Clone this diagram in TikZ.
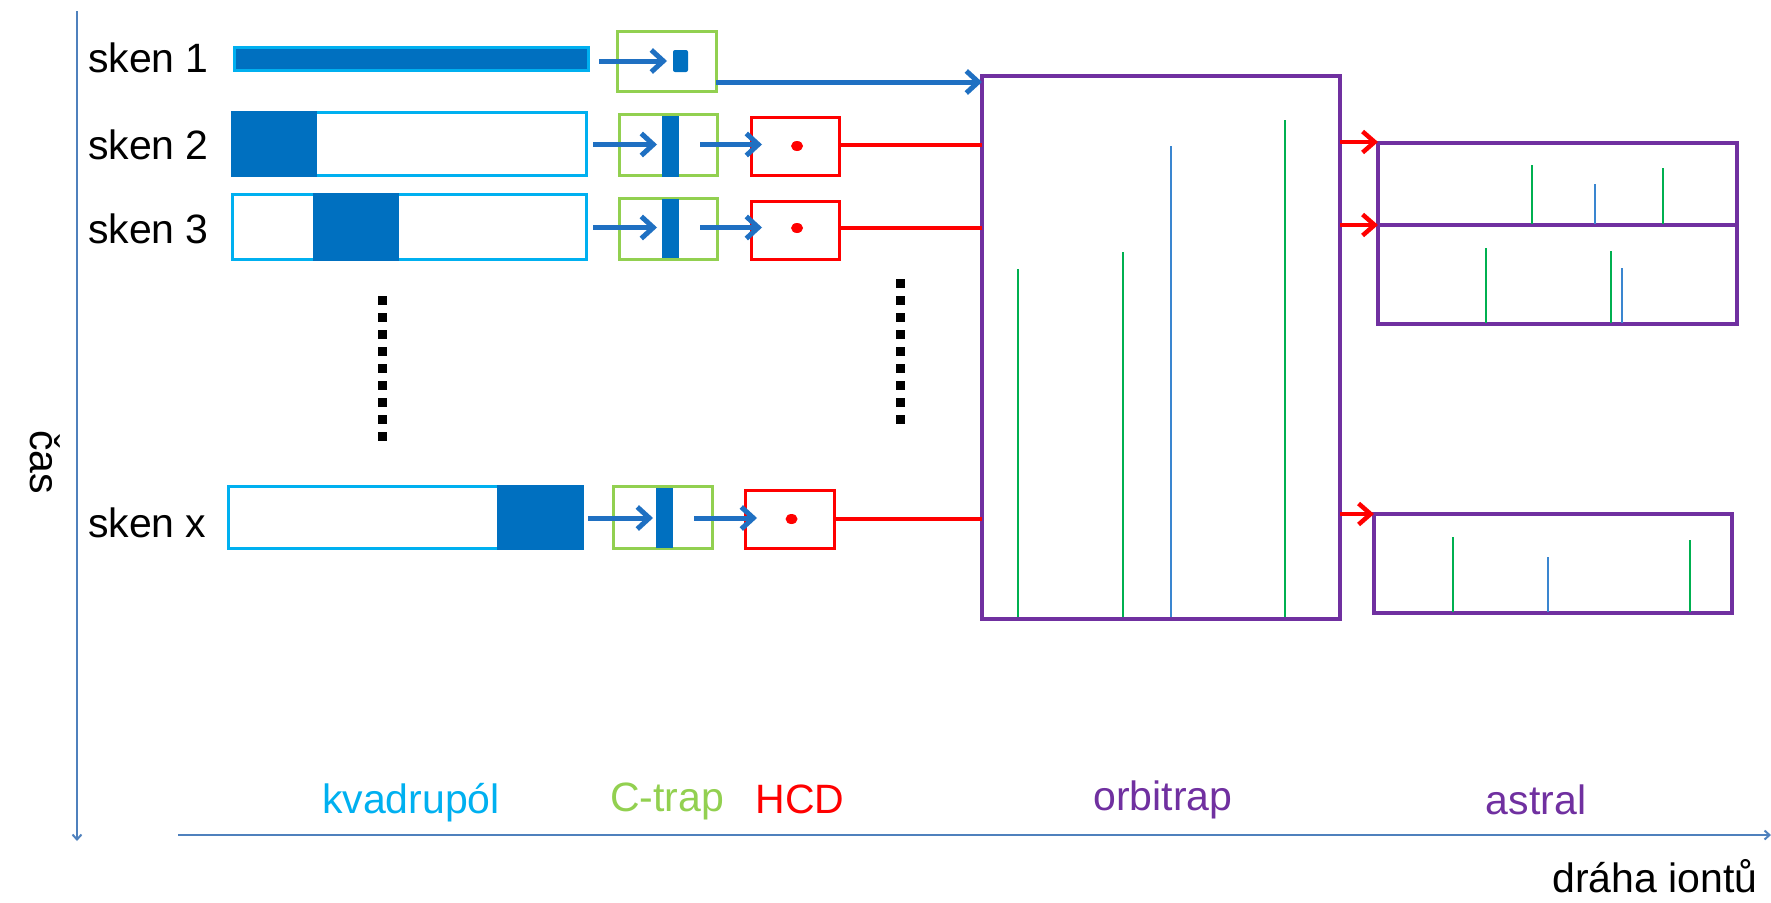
\documentclass[tikz,border=0pt]{standalone}
\usepackage{fontspec}
\setmainfont{Liberation Sans}
\usetikzlibrary{arrows.meta,calc}
\definecolor{qcyan}{HTML}{00B0F0}
\definecolor{dblue}{HTML}{0070C0}
\definecolor{ablue}{HTML}{1F70C2}
\definecolor{axblue}{HTML}{4F81BD}
\definecolor{cgreen}{HTML}{92D050}
\definecolor{hred}{HTML}{FF0000}
\definecolor{ppurple}{HTML}{7030A0}
\definecolor{pkgreen}{HTML}{00B050}
\definecolor{pkblue}{HTML}{3A86D0}
\begin{document}
\begin{tikzpicture}[x=1pt,y=-1pt,
  box/.style={draw, rectangle, inner sep=0pt, outer sep=0pt, line width=3pt},
  qbox/.style={box, draw=qcyan},
  cbox/.style={box, draw=cgreen},
  hbox/.style={box, draw=hred},
  pbox/.style={box, draw=ppurple, line width=3.5pt},
  blk/.style={rectangle, fill=dblue, draw=none, inner sep=0pt, outer sep=0pt},
  barrow/.style={draw=ablue, line width=5pt, -{Straight Barb[length=12pt,width=22pt]}},
  rline/.style={draw=hred, line width=4.5pt},
  rarrow/.style={draw=hred, line width=4.5pt, -{Straight Barb[length=12pt,width=21pt]}},
  axisline/.style={draw=axblue, line width=2pt, -{Straight Barb[length=5pt,width=9pt]}},
  pkg/.style={draw=pkgreen, line width=2.2pt},
  pkb/.style={draw=pkblue, line width=2.2pt},
  dots/.style={draw=black, line width=9pt, dash pattern=on 9pt off 8pt},
  lbl/.style={inner sep=0pt, outer sep=0pt, font=\fontsize{41}{48}\selectfont},
]
\useasboundingbox (0,0) rectangle (1771,902);

% axes
\coordinate (tTop) at (77,11);
\coordinate (tBot) at (77,841);
\coordinate (xL) at (178,835);
\coordinate (xR) at (1771,835);
\draw[axisline] (tTop) -- (tBot);
\draw[axisline] (xL) -- (xR);

% quadrupole boxes
\node[qbox, fill=dblue, minimum width=354, minimum height=23] (q1) at (411,58.5) {};
\node[qbox, minimum width=354, minimum height=63] (q2) at (409,143.5) {};
\node[qbox, minimum width=354, minimum height=65] (q3) at (409,226.5) {};
\node[qbox, minimum width=354, minimum height=62] (qx) at (405,517) {};
\fill[dblue] ($(q2.north west)+(-1.5,-1.5)$) rectangle ($(q2.south west)+(85,1.5)$);
\fill[dblue] ($(q3.north west)+(81,-1.5)$) rectangle ($(q3.south west)+(167,1.5)$);
\fill[dblue] ($(qx.north east)+(-85,-1.5)$) rectangle ($(qx.south east)+(1.5,1.5)$);

% C-trap boxes
\node[cbox, minimum width=99, minimum height=60] (c1) at (666.5,61) {};
\node[cbox, minimum width=98, minimum height=61] (c2) at (668,144.5) {};
\node[cbox, minimum width=98, minimum height=61] (c3) at (668,228.5) {};
\node[cbox, minimum width=99, minimum height=62] (cx) at (662.5,517) {};
\node[blk, rounded corners=2pt, minimum width=15, minimum height=22] (cb1) at (680.5,61) {};
\node[blk, minimum width=17, minimum height=61] (cb2) at (670.5,146.5) {};
\node[blk, minimum width=17, minimum height=59] (cb3) at (670.5,228.5) {};
\node[blk, minimum width=17, minimum height=60] (cbx) at (664.5,518) {};

% HCD boxes
\node[hbox, minimum width=88, minimum height=58] (h2) at (795,146) {};
\node[hbox, minimum width=88, minimum height=58] (h3) at (795,230) {};
\node[hbox, minimum width=89, minimum height=58] (hx) at (789.5,519) {};
\fill[hred] ($(h2.center)+(2,0)$) ellipse [x radius=6, y radius=5];
\fill[hred] ($(h3.center)+(2,-2)$) ellipse [x radius=6, y radius=5];
\fill[hred] ($(hx.center)+(2,0)$) ellipse [x radius=6, y radius=5];

% orbitrap and astral
\node[pbox, minimum width=358, minimum height=543] (orb) at (1161,347.5) {};
\node[pbox, minimum width=359, minimum height=82] (a1) at (1557.5,184) {};
\node[pbox, minimum width=359, minimum height=99] (a2) at (1557.5,274.5) {};
\node[pbox, minimum width=358, minimum height=99] (a3) at (1553,563.5) {};

% peaks in orbitrap
\draw[pkg] (1018,617) -- (1018,269);
\draw[pkg] (1123,617) -- (1123,252);
\draw[pkb] (1171,617) -- (1171,146);
\draw[pkg] (1285,617) -- (1285,120);
% peaks in astral
\draw[pkg] (1532,224) -- (1532,165);
\draw[pkb] (1595,224) -- (1595,184);
\draw[pkg] (1663,224) -- (1663,168);
\draw[pkg] (1486,323) -- (1486,248);
\draw[pkg] (1611,323) -- (1611,251);
\draw[pkb] (1622,323) -- (1622,268);
\draw[pkg] (1453,612) -- (1453,537);
\draw[pkb] (1548,612) -- (1548,557);
\draw[pkg] (1690,612) -- (1690,540);

% connectors
\draw[barrow] ($(q1.east |- cb1.west)+(11,0)$) -- ($(cb1.west)+(-6,0)$);
\draw[barrow] ($(c1.east)+(0,21)$) -- ($(orb.west |- c1.east)+(0,21)$);

\draw[barrow] ($(q2.east |- c2.center)+(7,0)$) -- ($(cb2.west |- c2.center)+(-5,0)$);
\draw[barrow] ($(cb2.east |- c2.center)+(21,0)$) -- ($(h2.west |- c2.center)+(11,0)$);
\draw[barrow] ($(q3.east |- c3.center)+(7,-1)$) -- ($(cb3.west |- c3.center)+(-5,-1)$);
\draw[barrow] ($(cb3.east |- c3.center)+(21,-1)$) -- ($(h3.west |- c3.center)+(11,-1)$);
\draw[barrow] ($(qx.east |- cx.center)+(6,1)$) -- ($(cbx.west |- cx.center)+(-3,1)$);
\draw[barrow] ($(cbx.east |- cx.center)+(21,1)$) -- ($(hx.west |- cx.center)+(12,1)$);

\draw[rline] ($(h2.east)+(0,-1)$) -- ($(h2.east -| orb.west)+(0,-1)$);
\draw[rline] ($(h3.east)+(0,-2)$) -- ($(h3.east -| orb.west)+(0,-2)$);
\draw[rline] (hx.east) -- (hx.east -| orb.west);

\draw[rarrow] ($(a1.north west -| orb.east)+(0,-1)$) -- ($(a1.north west)+(0,-1)$);
\draw[rarrow] (a2.north west -| orb.east) -- (a2.north west);
\draw[rarrow] (a3.north west -| orb.east) -- (a3.north west);

% dotted separators
\coordinate (d1a) at (382,296);
\coordinate (d1b) at (382,441);
\coordinate (d2a) at (900,279);
\coordinate (d2b) at (900,424);
\draw[dots] (d1a) -- (d1b);
\draw[dots] (d2a) -- (d2b);

% labels
\node[lbl, anchor=base west] (s1) at (88,72) {sken 1};
\node[lbl, anchor=base west] (s2) at (88,159) {sken 2};
\node[lbl, anchor=base west] (s3) at (88,243) {sken 3};
\node[lbl, anchor=base west] (sx) at (88,537) {sken x};
\node[lbl, rotate=-90] (cas) at (45,462) {čas};
\node[lbl, anchor=base, text=qcyan] (lq) at (411,813) {kvadrupól};
\node[lbl, anchor=base, text=cgreen] (lc) at (667,811) {C-trap};
\node[lbl, anchor=base, text=hred] (lh) at (800,813) {HCD};
\node[lbl, anchor=base, text=ppurple] (lo) at (1163,810) {orbitrap};
\node[lbl, anchor=base, text=ppurple] (la) at (1536,814) {astral};
\node[lbl, anchor=base] (ld) at (1655,892) {dráha iontů};
\end{tikzpicture}
\end{document}
